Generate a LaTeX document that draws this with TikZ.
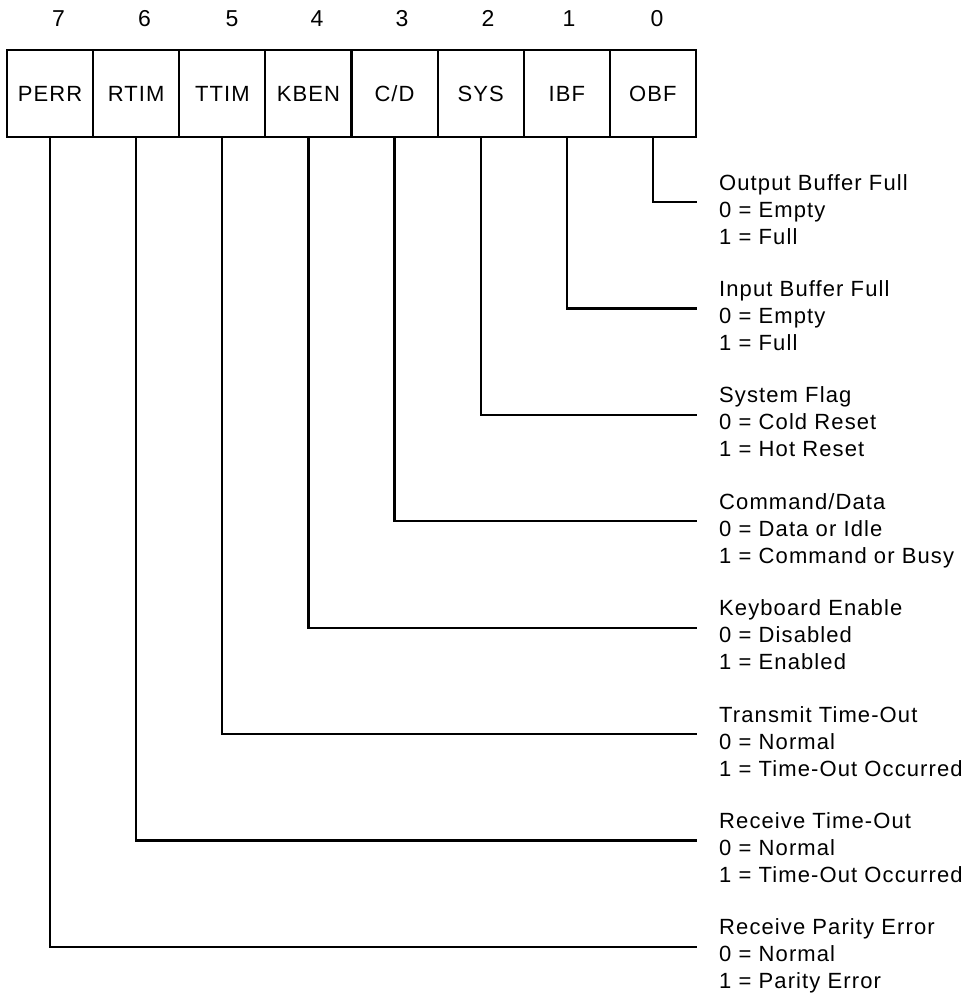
\documentclass[tikz,border=0pt]{standalone}
\usepackage{fontspec}
\setmainfont{Liberation Sans}[LetterSpace=5]
\begin{document}
\begin{tikzpicture}[x=1pt,y=-1pt,
  bitbox/.style={draw,line width=2.2pt,minimum width=86.125pt,minimum height=87pt,inner sep=0pt,font=\fontsize{22}{22}\selectfont},
  bitnum/.style={font=\fontsize{23}{23}\selectfont,inner sep=0pt},
  desc/.style={font=\fontsize{22}{27}\selectfont,inner sep=0pt,anchor=base west},
  wire/.style={line width=2.2pt}]
\useasboundingbox (0,0) rectangle (964,999);

% register boxes
\node[bitbox] (b7) at (50.06,93.5)  {PERR};
\node[bitbox] (b6) at (136.19,93.5) {RTIM};
\node[bitbox] (b5) at (222.31,93.5) {TTIM};
\node[bitbox] (b4) at (308.44,93.5) {KBEN};
\node[bitbox] (b3) at (394.56,93.5) {C/D};
\node[bitbox] (b2) at (480.69,93.5) {SYS};
\node[bitbox] (b1) at (566.81,93.5) {IBF};
\node[bitbox] (b0) at (652.94,93.5) {OBF};

% bit numbers
\node[bitnum] (n7) at (58.5,18.5)  {7};
\node[bitnum] (n6) at (144.5,18.5) {6};
\node[bitnum] (n5) at (232,18.5)   {5};
\node[bitnum] (n4) at (317,18.5)   {4};
\node[bitnum] (n3) at (402,18.5)   {3};
\node[bitnum] (n2) at (488,18.5)   {2};
\node[bitnum] (n1) at (569,18.5)   {1};
\node[bitnum] (n0) at (657,18.5)   {0};

% line ends
\coordinate (e0) at (697,202);
\coordinate (e1) at (697,308.4);
\coordinate (e2) at (697,414.8);
\coordinate (e3) at (697,521.2);
\coordinate (e4) at (697,627.6);
\coordinate (e5) at (697,734);
\coordinate (e6) at (697,840.4);
\coordinate (e7) at (697,946.8);

% descriptions
\node[desc] (t0) at (719,190)    {Output Buffer Full};
\node[desc] (z0) at (719,217)    {0 = Empty};
\node[desc] (o0) at (719,244)    {1 = Full};

\node[desc] (t1) at (719,296.4)  {Input Buffer Full};
\node[desc] (z1) at (719,323.4)  {0 = Empty};
\node[desc] (o1) at (719,350.4)  {1 = Full};

\node[desc] (t2) at (719,402.8)  {System Flag};
\node[desc] (z2) at (719,429.8)  {0 = Cold Reset};
\node[desc] (o2) at (719,456.8)  {1 = Hot Reset};

\node[desc] (t3) at (719,509.2)  {Command/Data};
\node[desc] (z3) at (719,536.2)  {0 = Data or Idle};
\node[desc] (o3) at (719,563.2)  {1 = Command or Busy};

\node[desc] (t4) at (719,615.6)  {Keyboard Enable};
\node[desc] (z4) at (719,642.6)  {0 = Disabled};
\node[desc] (o4) at (719,669.6)  {1 = Enabled};

\node[desc] (t5) at (719,722)    {Transmit Time-Out};
\node[desc] (z5) at (719,749)    {0 = Normal};
\node[desc] (o5) at (719,776)    {1 = Time-Out Occurred};

\node[desc] (t6) at (719,828.4)  {Receive Time-Out};
\node[desc] (z6) at (719,855.4)  {0 = Normal};
\node[desc] (o6) at (719,882.4)  {1 = Time-Out Occurred};

\node[desc] (t7) at (719,934.8)  {Receive Parity Error};
\node[desc] (z7) at (719,961.8)  {0 = Normal};
\node[desc] (o7) at (719,988.8)  {1 = Parity Error};

% connectors
\draw[wire] (b0.south) |- (e0);
\draw[wire] (b1.south) |- (e1);
\draw[wire] (b2.south) |- (e2);
\draw[wire] (b3.south) |- (e3);
\draw[wire] (b4.south) |- (e4);
\draw[wire] (b5.south) |- (e5);
\draw[wire] (b6.south) |- (e6);
\draw[wire] (b7.south) |- (e7);
\end{tikzpicture}
\end{document}
